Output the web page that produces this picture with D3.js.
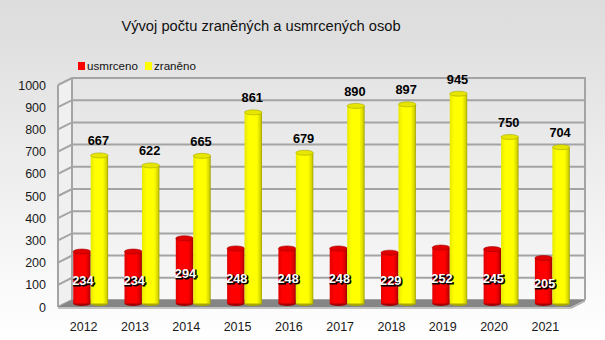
<!DOCTYPE html>
<html><head><meta charset="utf-8">
<script src="https://cdn.jsdelivr.net/npm/d3@7"></script>
<style>body{margin:0;background:#fff}svg{display:block;font-family:"Liberation Sans",Arial,sans-serif}</style>
</head><body>
<script>
const years = ["2012","2013","2014","2015","2016","2017","2018","2019","2020","2021"];
const usmrceno = [234,234,294,248,248,248,229,252,245,205];
const zraneno = [667,622,665,861,679,890,897,945,750,704];
const seriesNames = ["usmrceno","zraněno"];
const yTicks = [0,100,200,300,400,500,600,700,800,900,1000];
const title = "Vývoj počtu zraněných a usmrcených osob";

const W=605,H=340;
const svg=d3.select("body").append("svg").attr("width",W).attr("height",H);
const defs=svg.append("defs");
const bg=defs.append("linearGradient").attr("id","bg").attr("x1",0).attr("y1",0).attr("x2",0).attr("y2",1);
bg.append("stop").attr("offset","0%").attr("stop-color","#dcdcdc");
bg.append("stop").attr("offset","100%").attr("stop-color","#ffffff");
const wall=defs.append("linearGradient").attr("id","wall").attr("x1",0).attr("y1",0).attr("x2",0).attr("y2",1);
wall.append("stop").attr("offset","0%").attr("stop-color","#e4e4e4");
wall.append("stop").attr("offset","100%").attr("stop-color","#f8f8f8");
function cyl(id,c0,c1,c2,c3){
  const g=defs.append("linearGradient").attr("id",id).attr("x1",0).attr("y1",0).attr("x2",1).attr("y2",0);
  g.append("stop").attr("offset","0%").attr("stop-color",c0);
  g.append("stop").attr("offset","25%").attr("stop-color",c1);
  g.append("stop").attr("offset","70%").attr("stop-color",c1);
  g.append("stop").attr("offset","90%").attr("stop-color",c2);
  g.append("stop").attr("offset","100%").attr("stop-color",c3);
}
cyl("gy","#e8e800","#ffff00","#d8d800","#a0a000");
cyl("gr","#e00000","#ff0000","#d00000","#900000");
svg.append("rect").attr("width",W).attr("height",H).attr("fill","url(#bg)");

const DX=14, DY=-7;
const y=d3.scaleLinear().domain([0,1000]).range([307,85]);
const x=d3.scaleBand().domain(years).range([58,571]).paddingInner(0.32).paddingOuter(0.16);
const xs=d3.scaleBand().domain(seriesNames).range([0,x.bandwidth()]);

// back wall
svg.append("rect").attr("x",58+DX).attr("y",y(1000)+DY).attr("width",571-58).attr("height",y(0)-y(1000)).attr("fill","url(#wall)");
// side wall
svg.append("path").attr("d",`M58,${y(0)}L58,${y(1000)}L${58+DX},${y(1000)+DY}L${58+DX},${y(0)+DY}Z`).attr("fill","#f0f0f0");
// gridlines
const gl=svg.append("g").attr("stroke","#a4a4a4").attr("stroke-width",2).attr("fill","none");
yTicks.forEach(t=>{
  gl.append("path").attr("d",`M58,${y(t)}L${58+DX},${y(t)+DY}L${571+DX},${y(t)+DY}`);
});
gl.append("path").attr("d",`M58,${y(0)}L58,${y(1000)}`);
gl.append("path").attr("d",`M${58+DX},${y(0)+DY}L${58+DX},${y(1000)+DY}`);
gl.append("path").attr("d",`M${571+DX},${y(0)+DY}L${571+DX},${y(1000)+DY-1}`);
// floor
svg.append("path").attr("d",`M58,${y(0)}L571,${y(0)}L${571+DX},${y(0)+DY}L${58+DX},${y(0)+DY}Z`).attr("fill","#858585");
svg.append("line").attr("x1",58).attr("x2",571).attr("y1",y(0)+1).attr("y2",y(0)+1).attr("stroke","#b0b0b0").attr("stroke-width",1.5);
svg.append("line").attr("x1",571).attr("x2",571+DX).attr("y1",y(0)+1).attr("y2",y(0)+DY+1).attr("stroke","#b0b0b0").attr("stroke-width",1.5);

// y axis labels
svg.append("g").selectAll("text").data(yTicks).join("text")
  .attr("x",46).attr("y",d=>y(d)+4.5).attr("text-anchor","end").attr("font-size",12.5).attr("fill","#1a1a1a").text(d=>d);
// x labels
svg.append("g").selectAll("text").data(years).join("text")
  .attr("x",d=>x(d)+x.bandwidth()/2).attr("y",330.5).attr("text-anchor","middle").attr("font-size",12.5).attr("fill","#1a1a1a").text(d=>d);

// bars
const MX=DX/2, MY=DY/2, RY=2.5;
function drawBar(g,xl,w,v,grad,top,stroke){
  const yb=y(0)+MY, yt=y(v)+MY;
  g.append("ellipse").attr("cx",xl+w/2).attr("cy",yb).attr("rx",w/2).attr("ry",RY).attr("fill",stroke);
  g.append("rect").attr("x",xl).attr("y",yt).attr("width",w).attr("height",yb-yt).attr("fill",`url(#${grad})`);
  g.append("ellipse").attr("cx",xl+w/2).attr("cy",yt).attr("rx",w/2).attr("ry",RY).attr("fill",top).attr("stroke",stroke).attr("stroke-width",0.6);
}
const bars=svg.append("g");
years.forEach((yr,i)=>{
  const xr=x(yr)+xs("usmrceno")+MX, xz=x(yr)+xs("zraněno")+MX, w=xs.bandwidth();
  drawBar(bars,xr,w,usmrceno[i],"gr","#e00000","#a00000");
  drawBar(bars,xz,w,zraneno[i],"gy","#e6e600","#a8a800");
});
// labels
const lab=svg.append("g").attr("font-weight","bold").attr("font-size",12.8).attr("text-anchor","middle");
years.forEach((yr,i)=>{
  const w=xs.bandwidth();
  const xz=x(yr)+xs("zraněno")+MX+w/2;
  lab.append("text").attr("x",xz-1).attr("y",y(zraneno[i])+MY-10).attr("fill","#000").text(zraneno[i]);
  const xr=x(yr)+xs("usmrceno")+MX+w/2+1;
  const ym=(y(0)+y(usmrceno[i]))/2+MY+7;
  lab.append("text").attr("x",xr+1).attr("y",ym+1).attr("fill","#000").attr("stroke","#000").attr("stroke-width",1.2).text(usmrceno[i]);
  lab.append("text").attr("x",xr).attr("y",ym).attr("fill","#fff").text(usmrceno[i]);
});

// title
svg.append("text").attr("x",261).attr("y",31).attr("text-anchor","middle").attr("font-size",14.7).attr("fill","#111").text(title);
// legend
const leg=svg.append("g");
[["usmrceno","#ff0000",78],["zraněno","#ffff00",145]].forEach(([n,c,lx])=>{
  leg.append("rect").attr("x",lx).attr("y",62).attr("width",7).attr("height",8).attr("fill",c);
  leg.append("text").attr("x",lx+9).attr("y",70).attr("font-size",11.6).attr("fill","#111").text(n);
});
</script>
</body></html>
